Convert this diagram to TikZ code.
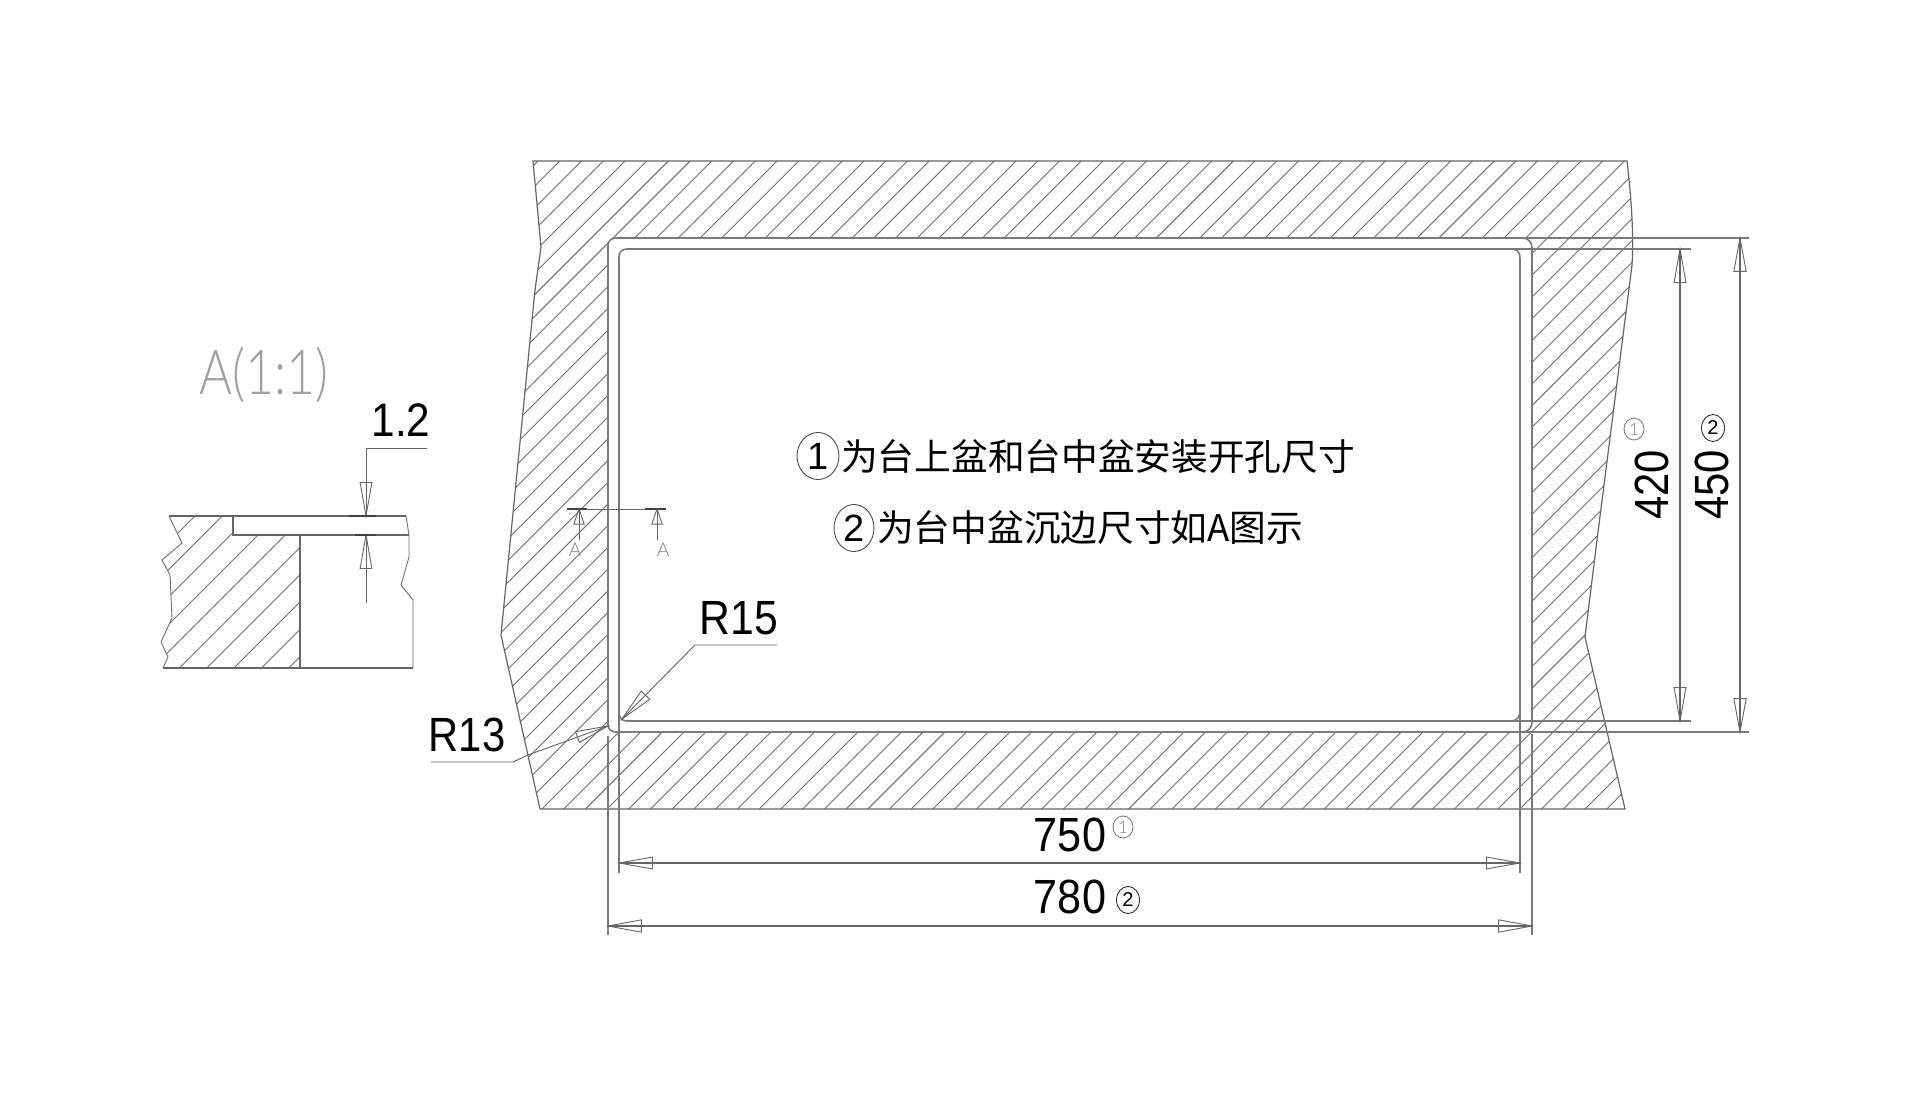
\documentclass[tikz,border=0pt]{standalone}
\usepackage{fontspec}
\setmainfont{Liberation Sans}
\newfontfamily\cjkf{Noto Sans CJK SC}
\newfontfamily\thinf[UprightFont=* Light]{Lato}
\usetikzlibrary{calc,shapes.geometric}
\definecolor{linegray}{HTML}{666666}
\definecolor{hatchgray}{HTML}{707070}
\definecolor{rimgray}{HTML}{7A7A7A}
\definecolor{titlegray}{HTML}{A0A0A0}
\tikzset{
  outline/.style={draw=linegray,line width=1.2pt},
  rim/.style={draw=rimgray,line width=1.6pt},
  hatchline/.style={draw=hatchgray,line width=0.9pt},
  dimline/.style={draw=linegray,line width=1.1pt},
  headline/.style={draw=linegray,line width=0.9pt},
  thicktick/.style={draw=black!75,line width=1.8pt},
  dimtext/.style={font=\fontsize{48pt}{48pt}\selectfont,inner sep=0pt,text=black},
  cjktext/.style={font=\cjkf\fontsize{36.7pt}{36.7pt}\selectfont,inner sep=0pt,text=black},
  bigring/.style={ellipse,draw=black!70,line width=0.9pt,inner sep=0pt,font=\fontsize{38pt}{38pt}\selectfont,text=black},
  smallgray/.style={ellipse,draw=gray,line width=0.9pt,inner sep=0pt,minimum width=20pt,minimum height=22pt,font=\thinf\fontsize{17pt}{17pt}\selectfont,text=gray},
  smallblack/.style={ellipse,draw=black!80,line width=0.9pt,inner sep=0pt,minimum width=23pt,minimum height=27pt,font=\fontsize{20pt}{20pt}\selectfont,text=black},
  seclabel/.style={font=\thinf\fontsize{19pt}{19pt}\selectfont,inner sep=0pt,text=gray},
}
\newcommand{\ahead}[4]{\draw[headline] (#1) -- ($(#1)!#3pt!#4:(#2)$) -- ($(#1)!#3pt!-#4:(#2)$) -- cycle;}
\newcommand{\nar}[2]{\scalebox{#1}[1]{#2}}
\begin{document}
\begin{tikzpicture}[x=1pt,y=-1pt]
\useasboundingbox (0,0) rectangle (1920,1094);
\fill[white] (0,0) rectangle (1920,1094);

% main slab outline
\begin{scope}
\clip (533,161) -- (1627,161) .. controls (1631,195) and (1634,235) .. (1632,265) -- (1597,540) -- (1585,637) -- (1625,809) -- (540,809) -- (501,635) -- (535,290) -- (541,247) -- cycle;
\foreach \k in {0,...,85}{
  \pgfmathsetmacro{\c}{699+21.73*\k}
  \draw[hatchline] (\c-100,100) -- (\c-900,900);
}
\end{scope}
\fill[white] (608,238) rectangle (1532,732);
\draw[outline] (533,161) -- (1627,161) .. controls (1631,195) and (1634,235) .. (1632,265) -- (1597,540) -- (1585,637) -- (1625,809) -- (540,809) -- (501,635) -- (535,290) -- (541,247) -- cycle;

% outer cut-out with extension lines
\draw[rim] (616,238) -- (1749,238);
\draw[rim] (616,732) -- (1749,732);
\draw[rim] (608,246) -- (608,724) .. controls (608,729) and (611,732) .. (616,732);
\draw[rim] (608,736) -- (608,935);
\draw[rim] (608,246) .. controls (608,241) and (611,238) .. (616,238);
\draw[rim] (1522,238) .. controls (1528,238) and (1532,242) .. (1532,248) -- (1532,722) .. controls (1532,728) and (1528,732) .. (1522,732);
\draw[rim] (1532,734) -- (1532,935);
% inner cut-out with extension lines
\draw[rim] (627,249) -- (1691,249);
\draw[rim] (627,721) -- (1691,721);
\draw[rim] (627,249) .. controls (622,249) and (619,252) .. (619,257) -- (619,873);
\draw[rim] (619,712) .. controls (619,718) and (622,721) .. (627,721);
\draw[rim] (1511,249) .. controls (1517,249) and (1520,252) .. (1520,258) -- (1520,873);
\draw[rim] (1520,710) .. controls (1520,717) and (1517,721) .. (1511,721);

% vertical dimensions
\coordinate (d420t) at (1680,249);
\coordinate (d420b) at (1680,721);
\coordinate (d450t) at (1740,238);
\coordinate (d450b) at (1740,732);
\draw[dimline] (d420t) -- (d420b);
\draw[dimline] (d450t) -- (d450b);
\ahead{d420t}{d420b}{34}{10}
\ahead{d420b}{d420t}{34}{10}
\ahead{d450t}{d450b}{34}{10.5}
\ahead{d450b}{d450t}{34}{10.5}
\node[dimtext,rotate=90] (t420) at (1652,485) {\nar{0.87}{420}};
\node[dimtext,rotate=90] (t450) at (1712,485) {\nar{0.87}{450}};
\node[smallgray] (c420) at (1634,429) {1};
\node[smallblack] (c450) at (1713,428) {2};

% horizontal dimensions
\coordinate (d750l) at (619,863);
\coordinate (d750r) at (1520,863);
\coordinate (d780l) at (608,926);
\coordinate (d780r) at (1532,926);
\draw[dimline] (d750l) -- (d750r);
\draw[dimline] (d780l) -- (d780r);
\ahead{d750l}{d750r}{34}{10}
\ahead{d750r}{d750l}{34}{10}
\ahead{d780l}{d780r}{34}{10.5}
\ahead{d780r}{d780l}{34}{10.5}
\node[dimtext] (t750) at (1070,835) {\nar{0.9}{750}};
\node[dimtext] (t780) at (1070,897) {\nar{0.9}{780}};
\node[smallgray] (c750) at (1123,827) {1};
\node[smallblack] (c780) at (1128,900) {2};

% R leaders
\coordinate (r15tip) at (622,719);
\coordinate (r15k) at (695,645);
\coordinate (r15e) at (777,645);
\draw[headline] (r15tip) -- (r15k) -- (r15e);
\ahead{r15tip}{r15k}{34}{10}
\node[dimtext] (tr15) at (739,618) {\nar{0.89}{R15}};
\coordinate (r13tip) at (608,726);
\coordinate (r13m) at (528,755);
\coordinate (r13k) at (513,762);
\coordinate (r13e) at (431,762);
\draw[headline] (r13tip) -- (r13m) -- (r13k) -- (r13e);
\ahead{r13tip}{r13m}{33}{10}
\node[dimtext] (tr13) at (467,735) {\nar{0.87}{R13}};

% section marks A-A
\coordinate (s1) at (579,509);
\coordinate (s2) at (657,509);
\coordinate (s1t) at (579,540);
\coordinate (s2t) at (657,540);
\draw[headline] (567,509) -- (666,509);
\draw[thicktick] (567,509) -- (587,509);
\draw[thicktick] (645,509) -- (666,509);
\draw[headline] (s1) -- (s1t);
\draw[headline] (s2) -- (s2t);
\ahead{s1}{s1t}{16}{19}
\ahead{s2}{s2t}{16}{19}
\node[seclabel] (la1) at (575,550) {A};
\node[seclabel] (la2) at (663,550) {A};

% centre notes
\node[cjktext,anchor=west] (n1) at (841,457) {为台上盆和台中盆安装开孔尺寸};
\node[cjktext,anchor=west] (n2) at (877,528) {为台中盆沉边尺寸如A图示};
\node[bigring,minimum width=42pt,minimum height=47pt] (r1) at (818,456) {1};
\node[bigring,minimum width=40pt,minimum height=47pt] (r2) at (854,528) {2};

% detail A
\node[font=\thinf\fontsize{62pt}{62pt}\selectfont,text=titlegray,inner sep=0pt] (title) at (264,375) {\scalebox{0.81}[1]{A(1:1)}};
\begin{scope}
\clip (169,516) -- (233,516) -- (233,535) -- (300,535) -- (300,668) -- (163,668) -- (168,657) -- (161,642) -- (172,618) -- (170,575) -- (162,560) -- (182,543) -- cycle;
\foreach \k in {0,...,12}{
  \pgfmathsetmacro{\c}{711+27.3*\k}
  \draw[hatchline] (\c-100,100) -- (\c-900,900);
}
\end{scope}
\draw[outline] (169,516) -- (406,516);
\draw[outline] (233,516) -- (233,535) -- (409,535);
\draw[outline] (300,535) -- (300,668);
\draw[outline] (163,668) -- (413,668);
\draw[hatchline] (169,516) -- (182,543) -- (162,560) -- (170,575) -- (172,618) -- (161,642) -- (168,657) -- (163,668);
\draw[hatchline] (406,516) -- (409,535) -- (409,557) -- (401,585) -- (413,600) -- (413,668);
\coordinate (a12t) at (366,516);
\coordinate (a12b) at (366,535);
\coordinate (a12k) at (366,448);
\coordinate (a12e) at (427,448);
\coordinate (a12f) at (366,603);
\draw[headline] (a12e) -- (a12k) -- (a12t);
\draw[headline] (a12b) -- (a12f);
\ahead{a12t}{a12k}{34}{10}
\ahead{a12b}{a12f}{34}{10}
\draw[thicktick] (349,516) -- (376,516);
\draw[thicktick] (355,535) -- (376,535);
\node[dimtext,font=\fontsize{47pt}{47pt}\selectfont] (t12) at (401,420) {\nar{0.9}{1.2}};
\end{tikzpicture}
\end{document}
